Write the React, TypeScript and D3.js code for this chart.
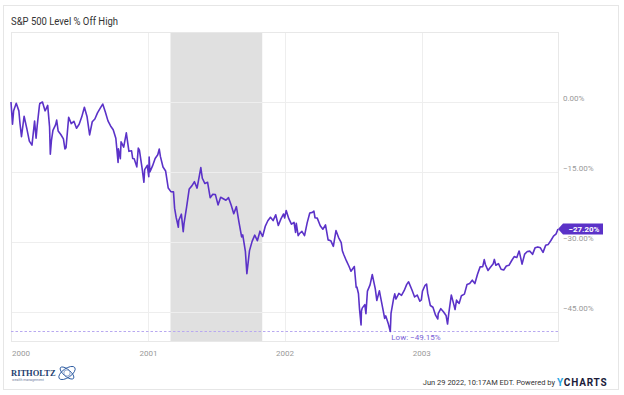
import React from "react";
import * as d3 from "d3";

const dates2000 = ["1999-12-31","2000-01-04","2000-01-07","2000-01-14","2000-01-21","2000-01-24","2000-01-28","2000-02-04","2000-02-11","2000-02-18","2000-02-25","2000-03-03","2000-03-07","2000-03-10","2000-03-16","2000-03-17","2000-03-24","2000-03-31","2000-04-03","2000-04-07","2000-04-12","2000-04-14","2000-04-17","2000-04-21","2000-04-28","2000-05-01","2000-05-05","2000-05-12","2000-05-19","2000-05-23","2000-05-26","2000-06-02","2000-06-09","2000-06-16","2000-06-23","2000-06-30","2000-07-07","2000-07-14","2000-07-21","2000-07-28","2000-08-04","2000-08-11","2000-08-18","2000-08-25","2000-09-01","2000-09-08","2000-09-15","2000-09-22","2000-09-29","2000-10-06","2000-10-12","2000-10-13","2000-10-18","2000-10-20","2000-10-27","2000-11-03","2000-11-10","2000-11-17","2000-11-20","2000-11-24","2000-12-01","2000-12-05","2000-12-08","2000-12-15","2000-12-20","2000-12-22","2000-12-29"];
const pct2000 = [0,-4.75,-1.89,-0.28,-1.9,-4.61,-7.42,-3.05,-5.59,-8.38,-9.25,-4.09,-7.73,-5.05,-0.73,-0.32,0,-1.89,-1.41,-0.72,-5.33,-11.19,-8.25,-6.09,-4.91,-3.88,-6.21,-6.97,-7.89,-10.05,-9.79,-3.28,-4.62,-4.12,-5.63,-4.77,-3.18,-1.14,-3.09,-7.04,-4.23,-3.64,-2.34,-1.37,-0.44,-2.16,-4.04,-5.13,-5.95,-7.76,-12.94,-10.03,-12.13,-8.55,-9.68,-6.6,-10.57,-10.46,-12.1,-12.15,-13.9,-9.88,-10.32,-14.09,-17.2,-14.5,-13.56];

const dates2001 = ["2001-01-02","2001-01-03","2001-01-05","2001-01-12","2001-01-19","2001-01-26","2001-01-30","2001-02-02","2001-02-09","2001-02-16","2001-02-23","2001-03-02","2001-03-09","2001-03-12","2001-03-16","2001-03-22","2001-03-23","2001-03-30","2001-04-04","2001-04-06","2001-04-13","2001-04-20","2001-04-27","2001-05-04","2001-05-11","2001-05-18","2001-05-21","2001-05-25","2001-06-01","2001-06-08","2001-06-15","2001-06-22","2001-06-29","2001-07-06","2001-07-13","2001-07-20","2001-07-27","2001-08-03","2001-08-10","2001-08-17","2001-08-24","2001-08-31","2001-09-07","2001-09-10","2001-09-17","2001-09-21","2001-09-28","2001-10-05","2001-10-12","2001-10-19","2001-10-26","2001-11-02","2001-11-09","2001-11-16","2001-11-23","2001-11-30","2001-12-07","2001-12-14","2001-12-21","2001-12-28","2001-12-31"];
const pct2001 = [-15.99,-11.78,-15.0,-13.69,-12.11,-11.29,-10.07,-11.65,-13.93,-14.79,-18.44,-19.2,-19.25,-22.74,-24.68,-26.83,-25.38,-24.04,-27.77,-26.12,-22.52,-18.62,-17.97,-17.08,-18.45,-15.42,-14.05,-16.34,-17.47,-17.19,-20.5,-19.78,-19.84,-22.05,-20.41,-20.73,-21.06,-20.5,-22.08,-23.93,-22.42,-25.79,-28.92,-28.47,-31.99,-36.77,-31.85,-29.86,-28.53,-29.72,-27.68,-28.82,-26.66,-25.45,-24.69,-25.4,-24.17,-26.47,-25.05,-23.99,-24.84];

const dates2002 = ["2002-01-04","2002-01-11","2002-01-18","2002-01-25","2002-01-29","2002-01-31","2002-02-05","2002-02-08","2002-02-15","2002-02-22","2002-03-01","2002-03-08","2002-03-15","2002-03-19","2002-03-22","2002-03-28","2002-04-05","2002-04-12","2002-04-19","2002-04-26","2002-05-03","2002-05-10","2002-05-17","2002-05-24","2002-05-31","2002-06-03","2002-06-07","2002-06-14","2002-06-21","2002-06-26","2002-07-05","2002-07-10","2002-07-12","2002-07-16","2002-07-19","2002-07-23","2002-07-24","2002-07-26","2002-08-02","2002-08-05","2002-08-09","2002-08-16","2002-08-22","2002-08-30","2002-09-03","2002-09-10","2002-09-13","2002-09-20","2002-09-24","2002-09-27","2002-10-04","2002-10-09","2002-10-10","2002-10-11","2002-10-18","2002-10-21","2002-10-24","2002-11-01","2002-11-08","2002-11-15","2002-11-22","2002-11-27","2002-12-06","2002-12-13","2002-12-20","2002-12-27","2002-12-31"];
const pct2002 = [-23.24,-25.0,-26.18,-25.81,-27.94,-26.01,-28.64,-28.23,-27.71,-28.65,-25.9,-23.78,-23.65,-23.38,-24.8,-24.88,-26.5,-27.26,-26.34,-29.54,-29.72,-30.93,-27.55,-29.04,-30.14,-31.87,-32.73,-34.06,-35.24,-36.26,-35.25,-39.74,-39.68,-41.02,-44.5,-47.78,-44.78,-44.17,-43.42,-45.36,-40.51,-39.19,-36.97,-40.03,-42.52,-40.45,-41.75,-44.66,-46.36,-45.83,-47.59,-49.15,-47.37,-45.31,-42.1,-41.1,-42.22,-41.02,-41.42,-40.43,-39.08,-38.53,-40.28,-41.77,-41.36,-42.69,-42.4];

const dates2003 = ["2003-01-03","2003-01-10","2003-01-14","2003-01-17","2003-01-24","2003-01-31","2003-02-07","2003-02-13","2003-02-14","2003-02-21","2003-02-28","2003-03-07","2003-03-11","2003-03-14","2003-03-21","2003-03-28","2003-03-31","2003-04-04","2003-04-11","2003-04-17","2003-04-25","2003-05-02","2003-05-09","2003-05-16","2003-05-23","2003-05-30","2003-06-06","2003-06-13","2003-06-17","2003-06-20","2003-06-27","2003-07-03","2003-07-11","2003-07-14","2003-07-18","2003-07-25","2003-08-01","2003-08-08","2003-08-15","2003-08-22","2003-08-29","2003-09-05","2003-09-12","2003-09-18","2003-09-19","2003-09-26","2003-10-03","2003-10-10","2003-10-17","2003-10-24","2003-10-31","2003-11-07","2003-11-14","2003-11-21","2003-11-28","2003-12-05","2003-12-12","2003-12-19","2003-12-26","2003-12-31"];
const pct2003 = [-40.52,-39.27,-39.01,-40.96,-43.61,-43.98,-45.68,-46.49,-45.34,-44.28,-44.93,-45.73,-47.58,-45.45,-41.36,-43.47,-44.47,-42.46,-43.15,-41.5,-41.16,-39.11,-38.89,-38.18,-38.9,-36.92,-35.33,-35.28,-33.77,-34.81,-36.09,-35.47,-34.65,-33.73,-34.97,-34.62,-35.83,-36.0,-35.14,-34.99,-34.01,-33.13,-33.31,-31.94,-32.16,-34.74,-32.58,-32.04,-31.96,-32.64,-31.21,-31.05,-31.24,-32.22,-30.72,-30.51,-29.68,-28.73,-28.25,-27.2];

const yTicks = [0, -15, -30, -45];
const recession = ["2001-03-01", "2001-11-01"];
const lowValue = -49.15;
const lastValue = -27.2;
const title = "S&P 500 Level % Off High";
const footerText = "Jun 29 2022, 10:17AM EDT. Powered by";

const parse = d3.timeParse("%Y-%m-%d");

export default function App() {
  const dates = [...dates2000, ...dates2001, ...dates2002, ...dates2003].map((s) => parse(s) as Date);
  const vals = [...pct2000, ...pct2001, ...pct2002, ...pct2003];
  const data = dates.map((d, i) => ({ d, v: vals[i] }));

  const L = 11, R = 558, T = 32, B = 341;
  const x = d3.scaleTime().domain([parse("1999-12-31") as Date, parse("2003-12-31") as Date]).range([L, R]);
  const y = d3.scaleLinear().domain([15, -51.21]).range([T, B]);
  const line = d3.line<{ d: Date; v: number }>().x((p) => x(p.d)).y((p) => y(p.v));
  const yearTicks = x.ticks(d3.timeYear.every(1) as any).filter((t) => t >= x.domain()[0]);
  const fmt = d3.format(".2f");
  const purple = "#5b32c8";

  const lowIdx = vals.indexOf(lowValue);
  const lowX = x(dates[lowIdx]);
  const lowY = Math.round(y(lowValue)) + 0.5;
  const lastY = y(lastValue);
  const rx0 = x(parse(recession[0]) as Date);
  const rx1 = x(parse(recession[1]) as Date);

  return (
    <svg width={624} height={395} style={{ position: "absolute", left: 0, top: 0, fontFamily: "Roboto, sans-serif" }}>
      <rect x={0} y={0} width={624} height={395} fill="#fff" />
      <rect x={3.5} y={5.5} width={615} height={384} fill="none" stroke="#e6e6e6" />
      <text x={11} y={25} fontSize={10.5} fill="#333" textLength={107} lengthAdjust="spacingAndGlyphs">{title}</text>
      <rect x={rx0} y={T} width={rx1 - rx0} height={B - T} fill="#e0e0e0" />
      {yTicks.map((t) => (
        <line key={"h" + t} x1={L} x2={R} y1={Math.round(y(t)) + 0.5} y2={Math.round(y(t)) + 0.5} stroke="#eeeeee" />
      ))}
      {yearTicks.map((t, i) => (
        <line key={"v" + i} x1={Math.round(x(t)) + 0.5} x2={Math.round(x(t)) + 0.5} y1={T} y2={B} stroke="#eeeeee" />
      ))}
      <rect x={L + 0.5} y={T + 0.5} width={R - L} height={B - T} fill="none" stroke="#e8e8e8" />
      {yTicks.map((t) => (
        <text key={"yl" + t} x={563} y={y(t) - 1} fontSize={8} fill="#999">{fmt(t) + "%"}</text>
      ))}
      {yearTicks.map((t, i) => (
        <text key={"xl" + i} x={i === 0 ? L + 1 : x(t)} y={356} fontSize={8} fill="#999" textAnchor={i === 0 ? "start" : "middle"}>
          {d3.timeFormat("%Y")(t)}
        </text>
      ))}
      <line x1={L} x2={R} y1={lowY} y2={lowY} stroke="#b8a9f0" strokeDasharray="2.5,2" strokeWidth={1} />
      <text x={lowX + 1} y={340} fontSize={8} fill="#7a5fd6">{"Low: " + fmt(lowValue) + "%"}</text>
      <path d={line(data) || ""} fill="none" stroke={purple} strokeWidth={1.6} strokeLinejoin="round" />
      <path d={`M${R},${lastY} L${R + 5},${lastY - 5.5} L${R + 45},${lastY - 5.5} L${R + 45},${lastY + 5.5} L${R + 5},${lastY + 5.5} Z`} fill={purple} />
      <text x={R + 26} y={lastY + 3} fontSize={8} fontWeight="bold" fill="#fff" textAnchor="middle">{fmt(lastValue) + "%"}</text>
      <text x={555} y={385} fontSize={7.5} fill="#333" textAnchor="end">{footerText}</text>
      <text x={557} y={386} fontSize={10} fontWeight="bold" letterSpacing={0.8}>
        <tspan fill="#2aa4e3">Y</tspan>
        <tspan fill="#1b1b3a">CHARTS</tspan>
      </text>
      <text x={11} y={376} fontSize={8.5} fontFamily="'Liberation Serif', serif" fontWeight="bold" fill="#24406f">RITHOLTZ</text>
      <text x={12} y={380.5} fontSize={3.5} fill="#7080a0">wealth management</text>
      <g transform="translate(67,373)" fill="none" stroke="#2b5aa0" strokeWidth={0.9}>
        <ellipse rx={9.5} ry={4.5} transform="rotate(-35)" />
        <ellipse rx={8.5} ry={3.5} transform="rotate(40)" />
        <circle r={3.2} stroke="#7a95c5" />
      </g>
    </svg>
  );
}
